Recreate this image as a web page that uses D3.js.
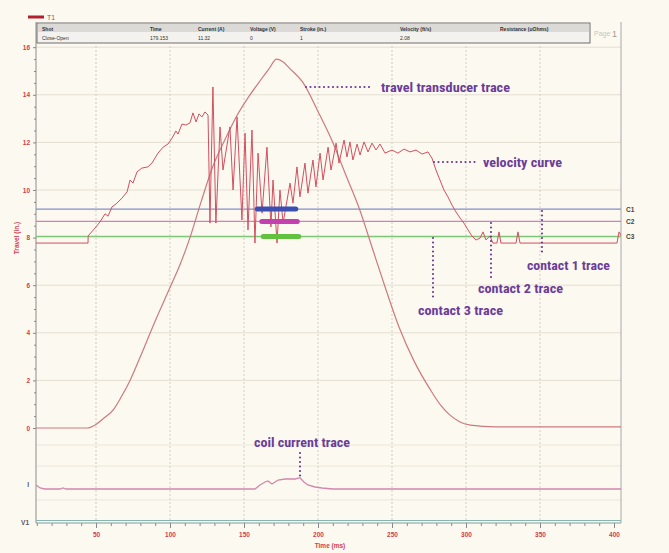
<!DOCTYPE html>
<html>
<head>
<meta charset="utf-8">
<script src="https://cdn.jsdelivr.net/npm/d3@7"></script>
<style>
body { margin: 0; background: #fcf9f1; }
svg { display: block; }
.note { font-family: "Liberation Sans Narrow", "Roboto Condensed", "Arial Narrow", sans-serif; font-weight: bold; fill: #6b3d98; font-size: 13px; }
.small { font-family: "Liberation Sans", Arial, sans-serif; }
</style>
</head>
<body>
<svg id="chart" width="669" height="553"></svg>
<script>
// time (ms) / travel (in.)
var travelTime  = [9.5, 44, 50, 55, 61.5, 67, 73, 80, 90, 100, 107, 113.5, 121, 129, 137, 145, 153, 161, 167, 172, 176, 181, 190, 200, 210, 219, 228, 237, 246, 255, 265, 276, 283, 289, 296, 303, 320, 405];
var travelValue = [0, 0, 0.15, 0.4, 0.75, 1.3, 2.0, 3.0, 4.5, 5.9, 6.9, 8.0, 9.5, 11.0, 12.1, 13.1, 13.9, 14.6, 15.1, 15.5, 15.4, 15.1, 14.5, 13.3, 12.0, 10.6, 9.2, 7.5, 5.8, 4.2, 2.8, 1.6, 0.95, 0.55, 0.25, 0.12, 0.05, 0.05];

var velocityTime = [9.5, 44.6, 44.7, 49.3, 52.7, 56.1, 58.1, 60.8, 63.5, 67.6, 71, 73, 75, 77.7, 81, 85, 87.8, 91.9, 95.3, 98.6, 101.4, 104, 105.4, 108.1, 110.8, 113.5, 115.5, 117.6, 119.6, 121.6, 123.6, 125.7,
    127, 129, 131, 133.8, 135.8, 140.5, 142.6, 145.3, 148.6, 150.7, 152.7, 155.4, 157.4, 159.5, 162.2, 165.5, 168.2, 169.6, 172.3, 174.3, 176.4, 181.1, 183.1, 185.8, 187.8, 191.2, 193.2, 196.6, 198.6,
    201.4, 203.4, 206.8, 208.8, 212.2, 214.2, 217.6, 219.6, 221.6, 223.6, 226.4, 228.4, 231.1, 233.8, 236.5, 239.2, 241.9, 245.3, 250, 254, 258.1, 262.2, 266.2, 270.3, 274.3,
    277, 279.7, 282.4, 285.1, 287.8, 290.5, 293.2, 296, 298.6, 301.4, 304, 306.8, 309.5, 311.5, 313.5, 316.2, 318.2, 320.9, 322.3, 323.6, 333.8, 335.1, 336.5, 402, 403.4, 405];
var velocityValue = [7.77, 7.77, 8.07, 8.4, 8.66, 9.0, 8.9, 9.29, 9.41, 9.66, 9.92, 10.42, 10.29, 10.76, 10.92, 10.97, 11.13, 11.55, 11.8, 11.93, 12.18, 12.48, 12.35, 12.77, 12.73, 12.82, 13.24, 12.86, 13.2, 13.07, 13.28, 13.15,
    8.61, 14.33, 8.61, 12.65, 10.84, 12.65, 10.0, 13.07, 8.74, 12.39, 8.32, 12.52, 7.77, 11.55, 9.03, 11.8, 8.45, 10.42, 7.77, 10.0, 8.61, 10.29, 9.45, 10.97, 9.71, 11.13, 9.87, 11.26, 10.13,
    11.55, 10.42, 11.8, 10.84, 11.97, 11.13, 12.1, 11.39, 12.02, 11.26, 11.93, 11.47, 12.02, 11.6, 11.97, 11.68, 11.93, 11.55, 11.68, 11.55, 11.72, 11.6, 11.68, 11.51, 11.6,
    11.34, 10.84, 10.42, 10.0, 9.71, 9.37, 9.08, 8.82, 8.61, 8.32, 8.07, 7.9, 7.98, 8.24, 7.9, 8.07, 7.77, 7.77, 8.24, 7.77, 7.77, 8.24, 7.77, 7.77, 8.24, 8.07];

// coil current channel (A)
var currentTime  = [9.5, 12.2, 15.5, 25.7, 27.7, 29.7, 157.4, 160.8, 164.2, 166.2, 168.9, 173, 177.7, 184.5, 187.8, 190.5, 193.2, 198, 202.7, 210, 405];
var currentValue = [4, 1, 0, 0, 1, 0, 0, 4, 7, 8, 5, 9, 10, 10, 11.3, 7, 4, 2, 1, 0, 0];

// contact channels
var contactNames  = ['C1', 'C2', 'C3'];
var contactLevels = [9.2, 8.68, 8.05];
var contactColors = ['#8190c4', '#d77bc8', '#7fc67a'];
var barColors     = ['#3b4fb3', '#c43fb0', '#62c23f'];
var barStart      = [159, 162, 163];
var barEnd        = [185, 186, 187];

var xTicks = [50, 100, 150, 200, 250, 300, 350, 400];
var yTicks = [0, 2, 4, 6, 8, 10, 12, 14, 16];

var headerCols = ['Shot', 'Time', 'Current (A)', 'Voltage (V)', 'Stroke (in.)', 'Velocity (ft/s)', 'Resistance (uOhms)'];
var headerVals = ['Close-Open', '179.153', '11.32', '0', '1', '2.08', ''];
var headerX    = [42, 150, 198, 250, 300, 400, 500];

var svg = d3.select('#chart');
var plotLeft = 36, plotRight = 621, plotTop = 22, plotBottom = 523;

var x = d3.scaleLinear().domain([0, 400]).range([22, 614]);
var y = d3.scaleLinear().domain([0, 16]).range([428, 47.2]);
var yI = d3.scaleLinear().domain([0, 12]).range([489, 477]);

var red = '#d0404f';

svg.append('defs').append('clipPath').attr('id', 'plotclip')
    .append('rect').attr('x', plotLeft).attr('y', plotTop).attr('width', plotRight - plotLeft).attr('height', plotBottom - plotTop);

// grid
var grid = svg.append('g');
grid.selectAll('.hg').data(yTicks.filter(d => d > 0)).enter().append('line')
    .attr('x1', plotLeft).attr('x2', plotRight)
    .attr('y1', d => y(d)).attr('y2', d => y(d))
    .attr('stroke', '#e4dfd2').attr('stroke-width', 1);
grid.selectAll('.hb').data([445, 466, 500]).enter().append('line')
    .attr('x1', plotLeft).attr('x2', plotRight).attr('y1', d => d).attr('y2', d => d)
    .attr('stroke', '#ece7da').attr('stroke-width', 1);
grid.selectAll('.vg').data(xTicks.filter(d => d < 400)).enter().append('line')
    .attr('x1', d => x(d)).attr('x2', d => x(d))
    .attr('y1', plotTop + 24).attr('y2', plotBottom)
    .attr('stroke', '#c9c5bb').attr('stroke-width', 0.8).attr('stroke-dasharray', '2,2');

// frame
svg.append('line').attr('x1', plotRight).attr('x2', plotRight).attr('y1', plotTop).attr('y2', plotBottom).attr('stroke', '#a8a8a8');
svg.append('line').attr('x1', plotLeft).attr('x2', plotLeft).attr('y1', plotTop).attr('y2', plotBottom).attr('stroke', '#8d8d8d');

// legend T1
svg.append('line').attr('x1', 28).attr('x2', 44).attr('y1', 17).attr('y2', 17).attr('stroke', '#b0202f').attr('stroke-width', 3);
svg.append('text').attr('class', 'small').attr('x', 47).attr('y', 20).attr('fill', red).style('font-size', '7px').text('T1');

// header table
var hdr = svg.append('g');
hdr.append('rect').attr('x', 37).attr('y', 23).attr('width', 553).attr('height', 20)
    .attr('fill', '#f4f2ee').attr('stroke', '#6e6e6e').attr('stroke-width', 1);
hdr.append('rect').attr('x', 38).attr('y', 24).attr('width', 551).attr('height', 8).attr('fill', '#dcdad6');
hdr.selectAll('.hc').data(headerCols).enter().append('text').attr('class', 'small')
    .attr('x', (d, i) => headerX[i]).attr('y', 30.5).style('font-size', '5px').style('font-weight', 'bold')
    .attr('fill', '#333').text(d => d);
hdr.selectAll('.hv').data(headerVals).enter().append('text').attr('class', 'small')
    .attr('x', (d, i) => headerX[i]).attr('y', 39.5).style('font-size', '5px')
    .attr('fill', '#333').text(d => d);
svg.append('text').attr('class', 'small').attr('x', 594).attr('y', 36).style('font-size', '7px').attr('fill', '#c9c6c0').text('Page');
svg.append('text').attr('class', 'small').attr('x', 612).attr('y', 37).style('font-size', '9px').attr('fill', '#9a9a9a').text('1');

// y axis
var yAxis = svg.append('g').attr('transform', 'translate(' + plotLeft + ',0)')
    .call(d3.axisLeft(y).tickValues(yTicks).tickSize(3).tickFormat(d3.format('d')));
var yMinor = svg.append('g').attr('transform', 'translate(' + plotLeft + ',0)')
    .call(d3.axisLeft(y).tickValues(d3.range(0, 16.01, 0.5).filter(d => d % 2 !== 0)).tickSize(2).tickFormat(''));
// x axis
var xAxis = svg.append('g').attr('transform', 'translate(0,' + plotBottom + ')')
    .call(d3.axisBottom(x).tickValues(xTicks).tickSize(5).tickFormat(d3.format('d')));
var xMinor = svg.append('g').attr('transform', 'translate(0,' + plotBottom + ')')
    .call(d3.axisBottom(x).tickValues(d3.range(10, 401, 10).filter(d => d % 50 !== 0)).tickSize(3).tickFormat(''));
[yAxis, yMinor, xAxis, xMinor].forEach(function(a) {
    a.select('.domain').remove();
    a.selectAll('line').attr('stroke', '#888');
    a.selectAll('text').attr('class', 'small').attr('fill', red).style('font-size', '6.5px').style('font-weight', 'bold');
});
xAxis.selectAll('text').attr('dy', '0.9em');

// bottom double line (V1 channel)
svg.append('line').attr('x1', plotLeft).attr('x2', plotRight).attr('y1', plotBottom - 2.5).attr('y2', plotBottom - 2.5).attr('stroke', '#86b5b0').attr('stroke-width', 1);
svg.append('line').attr('x1', plotLeft).attr('x2', plotRight).attr('y1', plotBottom).attr('y2', plotBottom).attr('stroke', '#7e9f9c').attr('stroke-width', 1.2);

svg.append('text').attr('class', 'small').attr('x', 330).attr('y', 548).attr('text-anchor', 'middle')
    .attr('fill', red).style('font-size', '6.5px').style('font-weight', 'bold').text('Time (ms)');
svg.append('text').attr('class', 'small').attr('transform', 'translate(19,238) rotate(-90)').attr('text-anchor', 'middle')
    .attr('fill', red).style('font-size', '6.5px').style('font-weight', 'bold').text('Travel (in.)');
svg.append('text').attr('class', 'small').attr('x', 29).attr('y', yI(4) + 2).attr('text-anchor', 'end')
    .attr('fill', '#555').style('font-size', '6.5px').style('font-weight', 'bold').text('I');
svg.append('text').attr('class', 'small').attr('x', 29).attr('y', plotBottom + 2).attr('text-anchor', 'end')
    .attr('fill', '#555').style('font-size', '6.5px').style('font-weight', 'bold').text('V1');

var plot = svg.append('g').attr('clip-path', 'url(#plotclip)');

// contact lines
plot.selectAll('.cl').data(contactLevels).enter().append('line')
    .attr('x1', plotLeft).attr('x2', plotRight)
    .attr('y1', d => y(d)).attr('y2', d => y(d))
    .attr('stroke', (d, i) => contactColors[i]).attr('stroke-width', 1.3);
svg.selectAll('.cn').data(contactNames).enter().append('text').attr('class', 'small')
    .attr('x', 626).attr('y', (d, i) => y(contactLevels[i]) + 2.5)
    .attr('fill', '#444').style('font-size', '6.5px').style('font-weight', 'bold').text(d => d);

// traces
var line = d3.line().x(d => x(d[0])).y(d => y(d[1]));
plot.append('path').datum(d3.zip(travelTime, travelValue))
    .attr('d', d3.line().x(d => x(d[0])).y(d => y(d[1])).curve(d3.curveMonotoneX))
    .attr('fill', 'none').attr('stroke', '#cc7a7f').attr('stroke-width', 1.2);
plot.append('path').datum(d3.zip(velocityTime, velocityValue))
    .attr('d', line).attr('fill', 'none').attr('stroke', '#d2505e').attr('stroke-width', 1);
plot.append('path').datum(d3.zip(currentTime, currentValue))
    .attr('d', d3.line().x(d => x(d[0])).y(d => yI(d[1])))
    .attr('fill', 'none').attr('stroke', '#d287ac').attr('stroke-width', 1.3);

// contact bars
plot.selectAll('.cb').data(contactLevels).enter().append('line')
    .attr('x1', (d, i) => x(barStart[i])).attr('x2', (d, i) => x(barEnd[i]))
    .attr('y1', d => y(d)).attr('y2', d => y(d))
    .attr('stroke', (d, i) => barColors[i]).attr('stroke-width', 5).attr('stroke-linecap', 'round');

// annotations
var notes = [
    { text: 'travel transducer trace', tx: 381, ty: 87, len: 129, x1: 306, y1: 87, x2: 372, y2: 87 },
    { text: 'velocity curve', tx: 483, ty: 162, len: 79, x1: 434, y1: 162, x2: 475, y2: 162 },
    { text: 'contact 1 trace', tx: 527, ty: 265, len: 83, x1: 542, y1: 211, x2: 542, y2: 255 },
    { text: 'contact 2 trace', tx: 478, ty: 288, len: 85, x1: 491, y1: 223, x2: 491, y2: 278 },
    { text: 'contact 3 trace', tx: 418, ty: 310, len: 85, x1: 433, y1: 238, x2: 433, y2: 300 },
    { text: 'coil current trace', tx: 254, ty: 442, len: 96, x1: 300, y1: 453, x2: 300, y2: 478 }
];
var ng = svg.append('g');
ng.selectAll('.nl').data(notes).enter().append('line')
    .attr('x1', d => d.x1).attr('y1', d => d.y1).attr('x2', d => d.x2).attr('y2', d => d.y2)
    .attr('stroke', '#6b3d98').attr('stroke-width', 2.2).attr('stroke-linecap', 'round').attr('stroke-dasharray', '0,4.5');
ng.selectAll('.nt').data(notes).enter().append('text').attr('class', 'note')
    .attr('x', d => d.tx).attr('y', d => d.ty + 4.5)
    .attr('textLength', d => d.len).attr('lengthAdjust', 'spacingAndGlyphs')
    .text(d => d.text);
</script>
</body>
</html>
